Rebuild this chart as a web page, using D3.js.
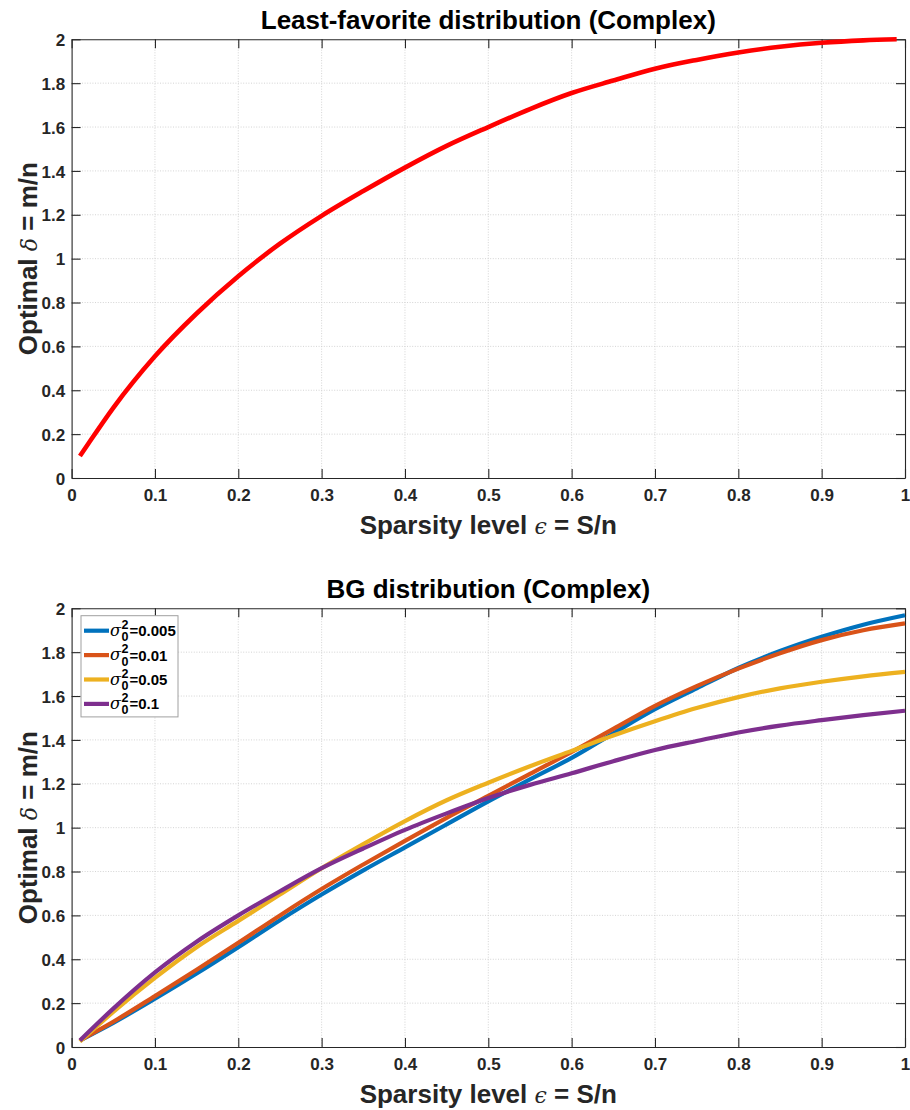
<!DOCTYPE html>
<html>
<head>
<meta charset="utf-8">
<script src="https://cdn.jsdelivr.net/npm/d3@7"></script>
<style>
  html, body { margin: 0; padding: 0; background: #fff; }
  svg { display: block; font-family: "Liberation Sans", Arial, Helvetica, sans-serif; }
</style>
</head>
<body>
<svg id="chart" width="910" height="1110"></svg>
<script>
// Sparsity level (x) and optimal undersampling ratio for the least-favorite distribution
const epsLF = [0.01, 0.02, 0.05, 0.1, 0.15, 0.2, 0.25, 0.3, 0.35, 0.4, 0.45, 0.5,
               0.55, 0.6, 0.65, 0.7, 0.75, 0.8, 0.85, 0.9, 0.95, 0.99];
const deltaLF = [0.10, 0.156, 0.32, 0.555, 0.75, 0.92, 1.068, 1.195, 1.308, 1.415, 1.514, 1.60,
                 1.682, 1.755, 1.812, 1.866, 1.906, 1.94, 1.966, 1.984, 1.995, 2.0];

// Bernoulli-Gaussian prior, one curve per sigma_0^2
const epsBG = [0.01, 0.05, 0.1, 0.15, 0.2, 0.25, 0.3, 0.35, 0.4, 0.45, 0.5, 0.55,
               0.6, 0.65, 0.7, 0.75, 0.8, 0.85, 0.9, 0.95, 1.0];
const bgSigma005 = [0.03, 0.11, 0.22, 0.335, 0.455, 0.578, 0.695, 0.805, 0.91, 1.015, 1.12, 1.22,
                    1.318, 1.43, 1.54, 1.635, 1.728, 1.805, 1.87, 1.925, 1.968];
const bgSigma01 = [0.03, 0.115, 0.232, 0.352, 0.475, 0.60, 0.72, 0.832, 0.94, 1.045, 1.145, 1.245,
                   1.345, 1.45, 1.555, 1.645, 1.725, 1.795, 1.855, 1.90, 1.931];
const bgSigma05 = [0.025, 0.16, 0.315, 0.455, 0.575, 0.695, 0.815, 0.925, 1.03, 1.125, 1.205, 1.28,
                   1.35, 1.42, 1.485, 1.545, 1.595, 1.635, 1.665, 1.69, 1.71];
const bgSigma1 = [0.03, 0.175, 0.34, 0.48, 0.60, 0.71, 0.815, 0.905, 0.99, 1.065, 1.135, 1.195,
                  1.248, 1.303, 1.354, 1.395, 1.434, 1.465, 1.49, 1.513, 1.533];

const bgLabels = ["0.005", "0.01", "0.05", "0.1"];
const bgColors = ["#0072BD", "#D95319", "#EDB120", "#7E2F8E"];

const xTicks = [0, 0.1, 0.2, 0.3, 0.4, 0.5, 0.6, 0.7, 0.8, 0.9, 1];
const yTicks = [0, 0.2, 0.4, 0.6, 0.8, 1, 1.2, 1.4, 1.6, 1.8, 2];
const xTickLabels = ["0", "0.1", "0.2", "0.3", "0.4", "0.5", "0.6", "0.7", "0.8", "0.9", "1"];
const yTickLabels = ["0", "0.2", "0.4", "0.6", "0.8", "1", "1.2", "1.4", "1.6", "1.8", "2"];

const titles = ["Least-favorite distribution (Complex)", "BG distribution (Complex)"];

const svg = d3.select("#chart");
const axisColor = "#262626";

function drawPanel(top, bottom, title, series) {
  const left = 71.6, right = 905;
  const x = d3.scaleLinear().domain([0, 1]).range([left, right]);
  const y = d3.scaleLinear().domain([0, 2]).range([bottom, top]);
  const g = svg.append("g");

  // dotted grid
  g.append("g").selectAll("line").data(xTicks.slice(1, -1)).join("line")
    .attr("x1", d => x(d)).attr("x2", d => x(d)).attr("y1", top).attr("y2", bottom)
    .attr("stroke", "#cfcfcf").attr("stroke-width", 0.9).attr("stroke-dasharray", "1,1.6");
  g.append("g").selectAll("line").data(yTicks.slice(1, -1)).join("line")
    .attr("x1", left).attr("x2", right).attr("y1", d => y(d)).attr("y2", d => y(d))
    .attr("stroke", "#cfcfcf").attr("stroke-width", 0.9).attr("stroke-dasharray", "1,1.6");

  // box axes with inward ticks
  const xAxis = d3.axisBottom(x).tickValues(xTicks).tickSizeInner(-9).tickSizeOuter(0)
    .tickPadding(11).tickFormat((d, i) => xTickLabels[i]);
  const yAxis = d3.axisLeft(y).tickValues(yTicks).tickSizeInner(-9).tickSizeOuter(0)
    .tickPadding(6.5).tickFormat((d, i) => yTickLabels[i]);
  const xTop = d3.axisTop(x).tickValues(xTicks).tickSizeInner(-9).tickSizeOuter(0).tickFormat("");
  const yRight = d3.axisRight(y).tickValues(yTicks).tickSizeInner(-9).tickSizeOuter(0).tickFormat("");

  const styleAxis = sel => {
    sel.selectAll("path").attr("stroke", axisColor).attr("stroke-width", 1.1);
    sel.selectAll("line").attr("stroke", axisColor).attr("stroke-width", 1.1);
    sel.selectAll("text").attr("fill", axisColor).attr("font-size", 17).attr("font-weight", "bold")
      .attr("font-family", "Liberation Sans, Arial, sans-serif");
  };
  g.append("g").attr("transform", `translate(0,${bottom})`).call(xAxis).call(styleAxis)
    .selectAll("text").attr("dy", "0.71em");
  g.append("g").attr("transform", `translate(${left},0)`).call(yAxis).call(styleAxis)
    .selectAll("text").attr("dy", "0.36em");
  g.append("g").attr("transform", `translate(0,${top})`).call(xTop).call(styleAxis);
  g.append("g").attr("transform", `translate(${right},0)`).call(yRight).call(styleAxis);

  // curves
  const line = d3.line().x(d => x(d[0])).y(d => y(d[1])).curve(d3.curveMonotoneX);
  series.forEach(s => {
    g.append("path").datum(s.xs.map((v, i) => [v, s.ys[i]]))
      .attr("d", line).attr("fill", "none").attr("stroke", s.color)
      .attr("stroke-width", s.width).attr("stroke-linejoin", "round");
  });

  // title
  g.append("text").attr("x", (left + right) / 2).attr("y", top - 10)
    .attr("text-anchor", "middle").attr("font-size", 26).attr("font-weight", "bold")
    .attr("fill", "#000").text(title);

  // x label
  const xl = g.append("text").attr("x", (left + right) / 2).attr("y", bottom + 56)
    .attr("text-anchor", "middle").attr("font-size", 26).attr("font-weight", "bold").attr("fill", axisColor);
  xl.append("tspan").text("Sparsity level ");
  xl.append("tspan").attr("font-weight", "normal").attr("font-style", "italic")
    .attr("font-family", "DejaVu Serif, serif").attr("font-size", 22).text("\u03F5");
  xl.append("tspan").text(" = S/n");

  // y label
  const yl = g.append("text").attr("transform", `translate(37,${(top + bottom) / 2}) rotate(-90)`)
    .attr("text-anchor", "middle").attr("font-size", 26).attr("font-weight", "bold").attr("fill", axisColor);
  yl.append("tspan").text("Optimal ");
  yl.append("tspan").attr("font-weight", "normal").attr("font-style", "italic")
    .attr("font-family", "DejaVu Serif, serif").attr("font-size", 22).text("\u03B4");
  yl.append("tspan").text(" = m/n");

  return { g, x, y };
}

// top panel
drawPanel(39.3, 478, titles[0], [
  { xs: epsLF, ys: deltaLF, color: "#FF0000", width: 4.6 }
]);

// bottom panel
const bgSeries = [bgSigma005, bgSigma01, bgSigma05, bgSigma1];
const bottomPanel = drawPanel(608.3, 1047, titles[1],
  bgSeries.map((ys, i) => ({ xs: epsBG, ys, color: bgColors[i], width: 4.2 })));

// legend
const lg = bottomPanel.g.append("g");
const lgX = 81, lgY = 615.7, lgW = 97, rowH = 24.4;
lg.append("rect").attr("x", lgX).attr("y", lgY).attr("width", lgW).attr("height", rowH * 3 + 28)
  .attr("fill", "#fff").attr("stroke", "#a0a0a0").attr("stroke-width", 1);
bgLabels.forEach((lab, i) => {
  const cy = lgY + 15 + i * rowH;
  lg.append("line").attr("x1", lgX + 3).attr("x2", lgX + 28).attr("y1", cy).attr("y2", cy)
    .attr("stroke", bgColors[i]).attr("stroke-width", 4.2);
  const tx = lgX + 29;
  const sig = lg.append("text").attr("x", tx).attr("y", cy + 5).attr("font-size", 16)
    .attr("font-style", "italic").attr("font-family", "DejaVu Serif, serif").attr("fill", "#000").text("\u03C3");
  const sw = sig.node().getComputedTextLength();
  lg.append("text").attr("x", tx + sw + 0.5).attr("y", cy - 2).attr("font-size", 12.5)
    .attr("font-weight", "bold").attr("fill", "#000").text("2");
  lg.append("text").attr("x", tx + sw + 0.5).attr("y", cy + 10.5).attr("font-size", 12.5)
    .attr("font-weight", "bold").attr("fill", "#000").text("0");
  lg.append("text").attr("x", tx + sw + 8.5).attr("y", cy + 5.5).attr("font-size", 15)
    .attr("font-weight", "bold").attr("fill", "#000").text("=" + lab);
});
</script>
</body>
</html>
